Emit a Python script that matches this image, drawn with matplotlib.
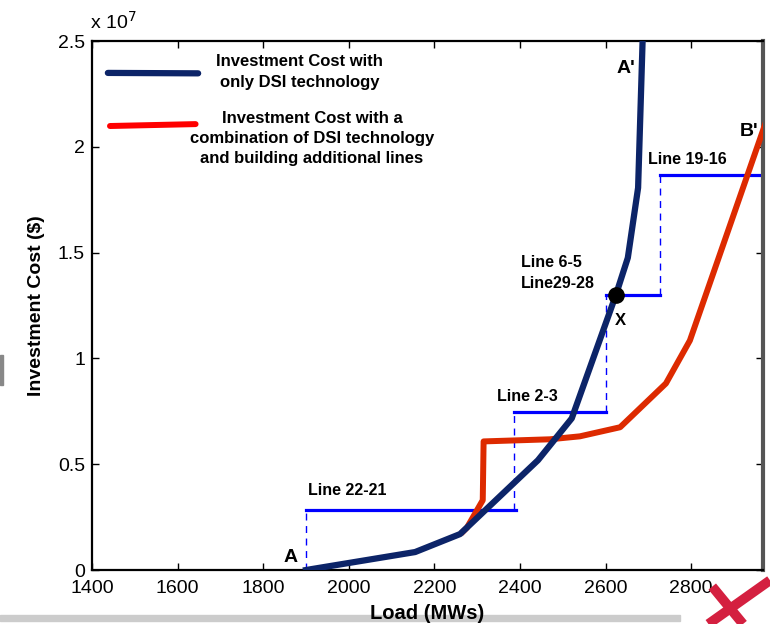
import matplotlib.pyplot as plt
from matplotlib.ticker import FuncFormatter

plt.rcParams['font.family'] = ['Liberation Sans', 'DejaVu Sans']

# investment cost with DSI only (load in MW, cost in $)
dsi_load = [1900, 2155, 2260, 2442, 2521, 2624, 2652, 2676, 2688]
dsi_cost = [0, 0.85e6, 1.7e6, 5.19e6, 7.17e6, 1.30e7, 1.476e7, 1.807e7, 2.6e7]

# investment cost with DSI plus new lines
mix_load = [2262, 2276, 2313, 2315, 2470, 2540, 2634, 2741, 2797, 2975]
mix_cost = [1.72e6, 2.0e6, 3.3e6, 6.08e6, 6.18e6, 6.32e6, 6.75e6, 8.82e6, 1.085e7, 2.12e7]

# line reinforcement steps: start load, end load, cost level
step_names = ['Line 22-21', 'Line 2-3', 'Line 6-5\nLine29-28', 'Line 19-16']
step_start = [1900, 2385, 2600, 2728]
step_end = [2390, 2600, 2728, 2975]
step_cost = [2.83e6, 7.45e6, 1.30e7, 1.868e7]
step_text_x = [1905, 2346, 2402, 2699]
step_text_y = [3.4e6, 7.83e6, 1.32e7, 1.906e7]

navy = '#0c2468'
red = '#dd2a00'

fig = plt.figure(figsize=(7.7, 6.24), dpi=100)
ax = fig.add_axes([0.1195, 0.0865, 0.8715, 0.8475])
ax.set_zorder(1)
ax.patch.set_alpha(0)

# steps: solid horizontal, dashed vertical riser
prev = 0
for x0, x1, c in zip(step_start, step_end, step_cost):
    ax.plot([x0, x1], [c, c], color='#0000ff', lw=2.3, zorder=2)
    ax.plot([x0, x0], [prev, c], color='#0000ff', lw=1, ls=(0, (5, 4)), zorder=2)
    prev = c

ax.plot(mix_load, mix_cost, color=red, lw=4.3, solid_capstyle='butt', zorder=3)
ax.plot(dsi_load, dsi_cost, color=navy, lw=4.5, zorder=4)
ax.plot([dsi_load[5]], [dsi_cost[5]], 'o', color='black', ms=11, zorder=5)

lbl = dict(fontsize=11.5, fontweight='bold')
for name, tx, ty in zip(step_names, step_text_x, step_text_y):
    ax.text(tx, ty, name, ha='left', va='bottom', linespacing=1.5, **lbl)

big = dict(fontsize=14, fontweight='bold')
ax.text(1881, 0.57e6, 'A', ha='right', va='center', **big)
ax.text(2648, 2.37e7, "A'", ha='center', va='center', **big)
ax.text(2935, 2.075e7, "B'", ha='center', va='center', **big)
ax.text(2634, 1.18e7, 'X', ha='center', va='center', fontsize=12, fontweight='bold')

# hand-drawn legend
leg = dict(fontsize=12, fontweight='bold', ha='center', va='center', linespacing=1.45)
ax.plot([1437, 1648], [2.35e7, 2.348e7], color=navy, lw=4.5, solid_capstyle='round', clip_on=False)
ax.plot([1442, 1642], [2.099e7, 2.108e7], color='#ff0000', lw=4.3, solid_capstyle='round', clip_on=False)
ax.text(1885, 2.355e7, 'Investment Cost with\nonly DSI technology', **leg)
ax.text(1914, 2.04e7, 'Investment Cost with a\ncombination of DSI technology\nand building additional lines', **leg)

ax.set_xlim(1400, 2968)
ax.set_ylim(0, 2.5e7)
ax.set_xticks(range(1400, 2801, 200))
ax.set_yticks([0, 0.5e7, 1e7, 1.5e7, 2e7, 2.5e7])
ax.yaxis.set_major_formatter(FuncFormatter(lambda v, p: '%g' % (v / 1e7)))
ax.tick_params(direction='in', length=5, width=1, top=True, right=True, labelsize=14)
ax.tick_params(axis='x', pad=7)
ax.tick_params(axis='y', pad=5)
ax.text(-0.003, 1.015, r'x 10$^7$', transform=ax.transAxes, fontsize=14, ha='left', va='bottom')

for s in ['left', 'bottom', 'top']:
    ax.spines[s].set_linewidth(1.6)
ax.spines['right'].set_color('#555555')
ax.spines['right'].set_linewidth(3)

ax.set_xlabel('Load (MWs)', fontsize=14.5, fontweight='bold', labelpad=5)
ax.set_ylabel('Investment Cost ($)', fontsize=14, fontweight='bold', labelpad=9)

# page decorations around the figure, kept behind the axes
fig.patches.append(plt.Rectangle((0, 0.005), 0.883, 0.009, transform=fig.transFigure,
                                 color='#cccccc', zorder=-1))
fig.patches.append(plt.Rectangle((0, 0.383), 0.004, 0.048, transform=fig.transFigure,
                                 color='#888888', zorder=-1))
fig.lines.append(plt.Line2D([0.92, 1.0], [0.0, 0.07], transform=fig.transFigure,
                            color='#d42040', lw=7, solid_capstyle='butt', zorder=2))
fig.lines.append(plt.Line2D([0.925, 0.965], [0.06, 0.0], transform=fig.transFigure,
                            color='#d42040', lw=7, solid_capstyle='butt', zorder=2))

fig.savefig('out.png', dpi=100)
